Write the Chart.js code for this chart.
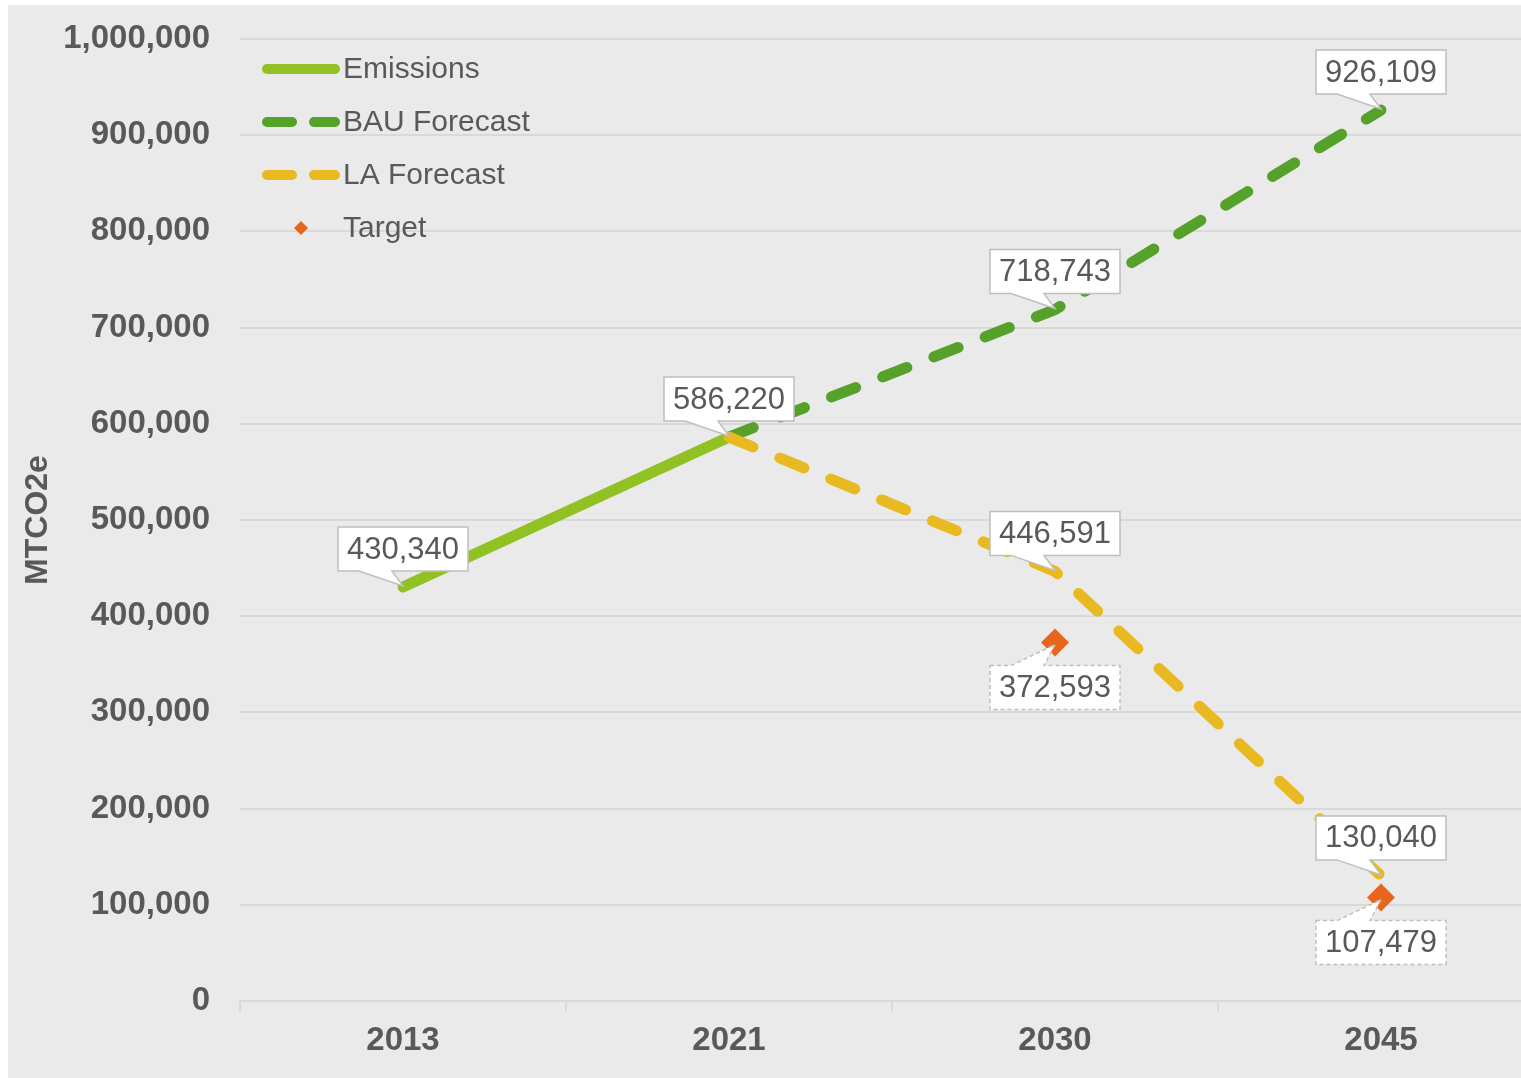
<!DOCTYPE html>
<html><head><meta charset="utf-8">
<script src="https://cdn.jsdelivr.net/npm/chart.js@4.4.1/dist/chart.umd.min.js"></script>
<style>
html,body{margin:0;padding:0;background:#fff;overflow:hidden;width:1521px;height:1078px;}
#wrap{position:absolute;left:8px;top:5px;width:1560px;height:1073px;background:#eaeaea;}
canvas{display:block;}
</style></head><body>
<div id="wrap"><canvas id="c" width="1560" height="1073"></canvas></div>
<script>
// ---- data ----
const categories = ['2013', '2021', '2030', '2045'];
const emissions = [430340, 586220, null, null];
const bauForecast = [null, 586220, 718743, 926109];
const laForecast = [null, 586220, 446591, 130040];
const target = [null, null, 372593, 107479];
const seriesNames = ['Emissions', 'BAU Forecast', 'LA Forecast', 'Target'];
const yMin = 0, yMax = 1000000, yStep = 100000;
const yTitle = 'MTCO2e';

// ---- styles ----
const FAMILY = '"Liberation Sans", Arial, sans-serif';
const TEXT = '#595959';
const GRID = '#d9d9d9';
const C_EM = '#92c124', C_BAU = '#56a12a', C_LA = '#e9b922', C_T = '#e8661b';

const fmt = v => Number(v).toLocaleString('en-US');

const calloutPlugin = {
  id: 'callouts',
  afterDatasetsDraw(chart) {
    const ctx = chart.ctx;
    chart.data.datasets.forEach((ds, di) => {
      if (!ds.callout) return;
      const meta = chart.getDatasetMeta(di);
      ds.callout.idx.forEach(i => {
        const el = meta.data[i];
        const x = el.x, y = el.y;
        const text = fmt(ds.data[i]);
        ctx.save();
        ctx.font = '31px ' + FAMILY;
        const w = Math.round(ctx.measureText(text).width + 18), h = 44;
        const below = ds.callout.below;
        const bx = x - w / 2;
        const by = below ? y + 23 : y - 16 - h;
        ctx.beginPath();
        if (!below) {
          ctx.moveTo(bx, by); ctx.lineTo(bx + w, by); ctx.lineTo(bx + w, by + h);
          ctx.lineTo(x - 11, by + h); ctx.lineTo(x, y - 1); ctx.lineTo(x - 44, by + h);
          ctx.lineTo(bx, by + h); ctx.closePath();
        } else {
          ctx.moveTo(bx, by); ctx.lineTo(x - 44, by); ctx.lineTo(x, y + 2);
          ctx.lineTo(x - 11, by); ctx.lineTo(bx + w, by); ctx.lineTo(bx + w, by + h);
          ctx.lineTo(bx, by + h); ctx.closePath();
        }
        ctx.fillStyle = '#ffffff';
        ctx.fill();
        ctx.lineWidth = 1.5;
        ctx.strokeStyle = '#bfbfbf';
        if (below) ctx.setLineDash([4, 3]);
        ctx.stroke();
        ctx.setLineDash([]);
        ctx.fillStyle = TEXT;
        ctx.textAlign = 'center';
        ctx.textBaseline = 'middle';
        ctx.fillText(text, x, by + h / 2 + 1);
        ctx.restore();
      });
    });
  }
};

const legendPlugin = {
  id: 'customLegend',
  afterDraw(chart) {
    const ctx = chart.ctx;
    const a = chart.chartArea;
    const x0 = a.left + 22, x1 = a.left + 100, tx = a.left + 103;
    chart.data.datasets.forEach((ds, i) => {
      const y = a.top + 30 + 53 * i;
      ctx.save();
      if (ds.showLine === false) {
        const cx = (x0 + x1) / 2, r = 7;
        ctx.beginPath();
        ctx.moveTo(cx, y - r); ctx.lineTo(cx + r, y); ctx.lineTo(cx, y + r); ctx.lineTo(cx - r, y);
        ctx.closePath();
        ctx.fillStyle = ds.backgroundColor;
        ctx.fill();
      } else {
        ctx.beginPath();
        ctx.lineCap = 'round';
        ctx.lineWidth = 10;
        ctx.strokeStyle = ds.borderColor;
        if (ds.borderDash && ds.borderDash.length) {
          ctx.moveTo(x0 + 5, y); ctx.lineTo(x0 + 30, y);
          ctx.moveTo(x0 + 52, y); ctx.lineTo(x1 - 5, y);
        } else {
          ctx.moveTo(x0 + 5, y); ctx.lineTo(x1 - 5, y);
        }
        ctx.stroke();
      }
      ctx.fillStyle = TEXT;
      ctx.font = '30px ' + FAMILY;
      ctx.textAlign = 'left';
      ctx.textBaseline = 'middle';
      ctx.fillText(ds.label, tx, y + 1);
      ctx.restore();
    });
  }
};

const lineBase = { borderWidth: 11, pointRadius: 0, pointHoverRadius: 0, tension: 0, fill: false, borderCapStyle: 'round', borderJoinStyle: 'round', spanGaps: false };

new Chart(document.getElementById('c'), {
  type: 'line',
  data: {
    labels: categories,
    datasets: [
      Object.assign({}, lineBase, { label: seriesNames[0], data: emissions, borderColor: C_EM, backgroundColor: C_EM, order: 3,
        callout: { idx: [0, 1], below: false } }),
      Object.assign({}, lineBase, { label: seriesNames[1], data: bauForecast, borderColor: C_BAU, backgroundColor: C_BAU, borderDash: [26, 29], order: 2,
        callout: { idx: [2, 3], below: false } }),
      Object.assign({}, lineBase, { label: seriesNames[2], data: laForecast, borderColor: C_LA, backgroundColor: C_LA, borderDash: [26, 29], order: 1,
        callout: { idx: [2, 3], below: false } }),
      { label: seriesNames[3], data: target, showLine: false, pointStyle: 'rectRot', pointRadius: 14, pointHoverRadius: 14,
        pointBorderWidth: 0, backgroundColor: C_T, borderColor: C_T, order: 0,
        callout: { idx: [2, 3], below: true } }
    ]
  },
  options: {
    responsive: false,
    animation: false,
    devicePixelRatio: 1,
    layout: { padding: { top: 34, right: 24, left: 0, bottom: 0 } },
    plugins: { legend: { display: false }, tooltip: { enabled: false }, title: { display: false } },
    scales: {
      x: {
        offset: true,
        grid: { offset: true, drawOnChartArea: false, drawTicks: true, tickLength: 10, color: GRID, lineWidth: 2 },
        border: { display: true, color: GRID, width: 2 },
        ticks: { color: TEXT, font: { family: FAMILY, size: 33, weight: 'bold' }, padding: 10, maxRotation: 0 },
        afterFit(s) { s.height = 77; }
      },
      y: {
        min: yMin, max: yMax,
        ticks: { stepSize: yStep, color: TEXT, font: { family: FAMILY, size: 33, weight: 'bold' }, padding: 30,
          callback: v => fmt(v) },
        grid: { color: GRID, lineWidth: 2, drawTicks: false },
        border: { display: false },
        title: { display: true, text: yTitle, color: TEXT, font: { family: FAMILY, size: 32, weight: 'bold' }, padding: { top: 11, bottom: 0 } },
        afterFit(s) { s.width = 232; s.paddingTop = 10; s.paddingBottom = 10; }
      }
    }
  },
  plugins: [calloutPlugin, legendPlugin]
});
</script>
</body></html>
